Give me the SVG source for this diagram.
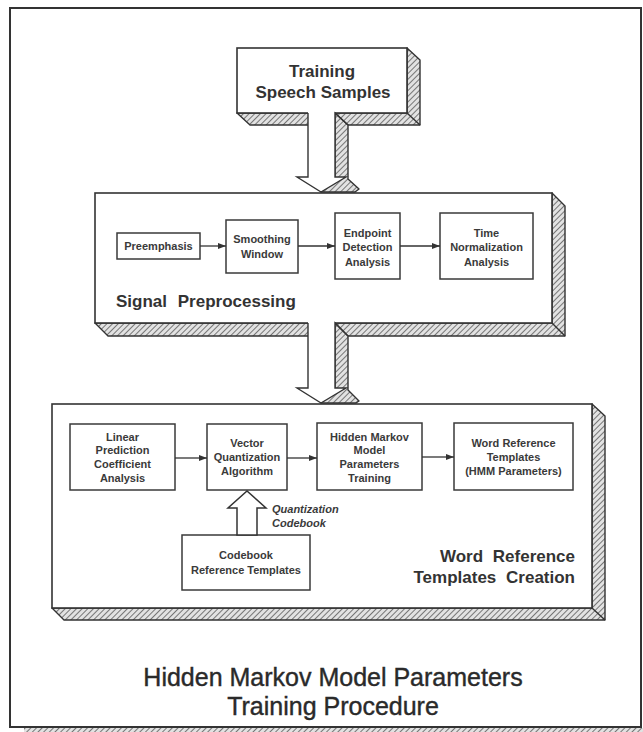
<svg xmlns="http://www.w3.org/2000/svg" width="643" height="732" viewBox="0 0 643 732">
  <defs>
    <pattern id="hatch" width="4" height="4" patternUnits="userSpaceOnUse" patternTransform="rotate(45)">
      <rect width="4" height="4" fill="#e2e2e2"/>
      <line x1="0" y1="0" x2="0" y2="4" stroke="#5a5a5a" stroke-width="1.6"/>
    </pattern>
    <marker id="tri" markerWidth="9" markerHeight="8" refX="8" refY="4" orient="auto" markerUnits="userSpaceOnUse">
      <path d="M0,1 L8,4 L0,7 Z" fill="#333"/>
    </marker>
    <style>
      .face { fill: #fff; stroke: #333; stroke-width: 1.6; }
      .side { fill: url(#hatch); stroke: #333; stroke-width: 1.4; stroke-linejoin: round; }
      .edge { fill: none; stroke: #333; stroke-width: 1.4; }
      .box { fill: #fff; stroke: #3a3a3a; stroke-width: 1.5; }
      .lbl { font-family: "Liberation Sans", Arial, sans-serif; font-size: 11px; font-weight: bold; fill: #3a3a3a; text-anchor: middle; }
      .ital { font-family: "Liberation Sans", Arial, sans-serif; font-size: 11px; font-weight: bold; font-style: italic; fill: #3a3a3a; }
      .big { font-family: "Liberation Sans", Arial, sans-serif; font-size: 17px; font-weight: bold; fill: #333; }
      .title { font-family: "Liberation Sans", Arial, sans-serif; font-size: 25px; fill: #2a2a2a; stroke: #2a2a2a; stroke-width: 0.4; text-anchor: middle; }
      .link { fill: none; stroke: #333; stroke-width: 1.3; marker-end: url(#tri); }
      .hollow { fill: #fff; stroke: #333; stroke-width: 1.5; stroke-linejoin: miter; }
    </style>
  </defs>

  <rect width="643" height="732" fill="#fff"/>

  <!-- page frame with shaded bottom strip -->
  <g id="frame">
    <rect x="24" y="728" width="619" height="4" fill="url(#hatch)"/>
    <rect x="10" y="8" width="631" height="719" fill="none" stroke="#333" stroke-width="2"/>
  </g>

  <!-- Training Speech Samples -->
  <g id="speech-samples">
    <polygon class="side" points="237,113 407,113 407,48 420,60 420,125 250,125"/>
    <rect class="face" x="237" y="48" width="170" height="65"/>
    <line class="edge" x1="407" y1="113" x2="420" y2="125"/>
    <text class="big" x="322" y="77" text-anchor="middle">Training</text>
    <text class="big" x="323" y="98" text-anchor="middle">Speech Samples</text>
  </g>

  <!-- Signal Preprocessing stage -->
  <g id="signal-preprocessing">
    <polygon class="side" points="95,323 552,323 552,193 565,206 565,336 108,336"/>
    <rect class="face" x="95" y="193" width="457" height="130"/>
    <line class="edge" x1="552" y1="323" x2="565" y2="336"/>
    <text class="big" x="116" y="307" word-spacing="6">Signal Preprocessing</text>
  </g>

  <g id="preemphasis">
    <rect class="box" x="117" y="233" width="83" height="26"/>
    <text class="lbl" x="158.5" y="250">Preemphasis</text>
  </g>
  <g id="smoothing-window">
    <rect class="box" x="226" y="220" width="72" height="53"/>
    <text class="lbl" x="262" y="243">Smoothing</text>
    <text class="lbl" x="262" y="258">Window</text>
  </g>
  <g id="endpoint-detection">
    <rect class="box" x="335" y="213" width="65" height="66"/>
    <text class="lbl" x="367.5" y="237">Endpoint</text>
    <text class="lbl" x="367.5" y="251">Detection</text>
    <text class="lbl" x="367.5" y="266">Analysis</text>
  </g>
  <g id="time-normalization">
    <rect class="box" x="440" y="213" width="93" height="66"/>
    <text class="lbl" x="486.5" y="237">Time</text>
    <text class="lbl" x="486.5" y="251">Normalization</text>
    <text class="lbl" x="486.5" y="266">Analysis</text>
  </g>

  <!-- Word Reference Templates Creation stage -->
  <g id="word-templates-creation">
    <polygon class="side" points="52,608 592,608 592,404 605,416 605,620 64,620"/>
    <rect class="face" x="52" y="404" width="540" height="204"/>
    <line class="edge" x1="592" y1="608" x2="605" y2="620"/>
    <text class="big" x="575" y="562" text-anchor="end" word-spacing="5">Word Reference</text>
    <text class="big" x="575" y="583" text-anchor="end" word-spacing="5">Templates Creation</text>
  </g>

  <g id="lpc-analysis">
    <rect class="box" x="70" y="424" width="105" height="66"/>
    <text class="lbl" x="122.5" y="441">Linear</text>
    <text class="lbl" x="122.5" y="454">Prediction</text>
    <text class="lbl" x="122.5" y="468">Coefficient</text>
    <text class="lbl" x="122.5" y="482">Analysis</text>
  </g>
  <g id="vector-quantization">
    <rect class="box" x="207" y="424" width="80" height="66"/>
    <text class="lbl" x="247" y="447">Vector</text>
    <text class="lbl" x="247" y="461">Quantization</text>
    <text class="lbl" x="247" y="475">Algorithm</text>
  </g>
  <g id="hmm-training">
    <rect class="box" x="317" y="423" width="105" height="67"/>
    <text class="lbl" x="369.5" y="441">Hidden Markov</text>
    <text class="lbl" x="369.5" y="454">Model</text>
    <text class="lbl" x="369.5" y="468">Parameters</text>
    <text class="lbl" x="369.5" y="482">Training</text>
  </g>
  <g id="word-reference-templates">
    <rect class="box" x="454" y="423" width="119" height="67"/>
    <text class="lbl" x="513.5" y="447">Word Reference</text>
    <text class="lbl" x="513.5" y="461">Templates</text>
    <text class="lbl" x="513.5" y="475">(HMM Parameters)</text>
  </g>
  <g id="codebook-templates">
    <rect class="box" x="182" y="535" width="128" height="55"/>
    <text class="lbl" x="246" y="559">Codebook</text>
    <text class="lbl" x="246" y="574">Reference Templates</text>
  </g>

  <!-- connectors -->
  <g id="connectors">
    <!-- block arrow: samples to preprocessing -->
    <polygon class="side" points="335,113 348,125 348,179 359,189 355,192 321,192 335,177"/>
    <polygon fill="#fff" points="308,111 335,111 335,177 346,177 321,192 297,177 308,177"/>
    <path class="edge" d="M308,113 V177 H297 L321,192 L346,177 H335 V113 L348,125" stroke-width="1.6"/>

    <!-- block arrow: preprocessing to template creation -->
    <polygon class="side" points="335,323 348,336 348,390 359,401 356,403 321,403 335,388"/>
    <polygon fill="#fff" points="308,321 335,321 335,388 346,388 321,403 297,388 308,388"/>
    <path class="edge" d="M308,323 V388 H297 L321,403 L346,388 H335 V323 L348,336" stroke-width="1.6"/>

    <!-- preprocessing chain -->
    <line class="link" x1="200" y1="246" x2="226" y2="246"/>
    <line class="link" x1="298" y1="246" x2="335" y2="246"/>
    <line class="link" x1="400" y1="246" x2="440" y2="246"/>

    <!-- template creation chain -->
    <line class="link" x1="175" y1="458" x2="207" y2="458"/>
    <line class="link" x1="287" y1="458" x2="317" y2="458"/>
    <line class="link" x1="422" y1="457" x2="454" y2="457"/>

    <!-- codebook feed -->
    <polygon class="hollow" points="237,535 237,508 228,508 247,491 266,508 257,508 257,535"/>
    <text class="ital" x="272" y="513">Quantization</text>
    <text class="ital" x="272" y="527">Codebook</text>
  </g>

  <!-- caption -->
  <g id="caption">
    <text class="title" x="333" y="686">Hidden Markov Model Parameters</text>
    <text class="title" x="333" y="715">Training Procedure</text>
  </g>
</svg>
